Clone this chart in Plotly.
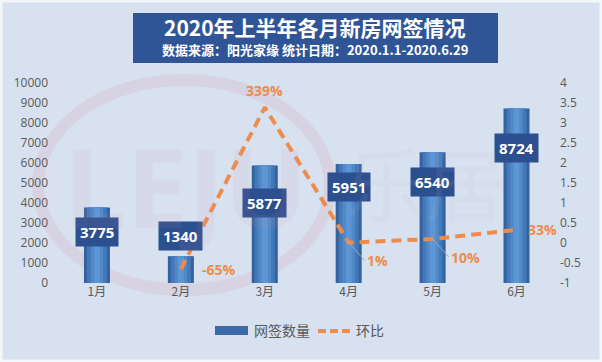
import plotly.graph_objects as go

months = ["1月", "2月", "3月", "4月", "5月", "6月"]
sign_counts = [3775, 1340, 5877, 5951, 6540, 8724]
mom_ratio = [None, -0.65, 3.39, 0.01, 0.10, 0.33]
mom_labels = ["", "-65%", "339%", "1%", "10%", "33%"]
left_ticks = list(range(0, 10001, 1000))
right_tick_vals = [-1, -0.5, 0, 0.5, 1, 1.5, 2, 2.5, 3, 3.5, 4]
right_tick_text = ["-1", "-0.5", "0", "0.5", "1", "1.5", "2", "2.5", "3", "3.5", "4"]

# layout helpers (label offsets below bar top, in data units)
bar_label_offset = [1225, -1000, 1877, 1150, 1490, 1974]

W, H = 602, 362
L, R, T, B = 55, 43, 83, 79
PW, PH = W - L - R, H - T - B


def px(x):
    return (x - L) / PW


def py(y):
    return (H - B - y) / PH


CJK = "Noto Sans CJK SC"
NUM = "Open Sans"
ORANGE = "#ee8c4c"
DARK = "#2b4f8f"

fig = go.Figure()

# bars with a simple shaded look (layered)
fig.add_trace(go.Bar(x=months, y=sign_counts, width=0.31, marker=dict(color="#34629e", line_width=0),
                     showlegend=False, hoverinfo="skip"))
fig.add_trace(go.Bar(x=months, y=sign_counts, width=0.24, marker=dict(color="#4378b9", line_width=0),
                     showlegend=False, hoverinfo="skip"))
fig.add_trace(go.Bar(x=months, y=sign_counts, width=0.15, marker=dict(color="#5189c8", line_width=0),
                     showlegend=False, hoverinfo="skip"))
fig.add_trace(go.Bar(x=months, y=sign_counts, width=0.07, marker=dict(color="#5d96d4", line_width=0),
                     showlegend=False, hoverinfo="skip"))

fig.add_trace(go.Scatter(x=months, y=mom_ratio, yaxis="y2", mode="lines",
                         line=dict(color=ORANGE, width=4, dash="10px,6px"),
                         showlegend=False, hoverinfo="skip", connectgaps=False))

# bar value labels
for m, v, off in zip(months, sign_counts, bar_label_offset):
    fig.add_annotation(x=m, y=v - off, xref="x", yref="y", text=f"<b>{v}</b>", showarrow=False,
                       font=dict(family=NUM, size=15, color="white"), bgcolor=DARK,
                       borderpad=4)

# ratio labels
label_specs = {
    "2月": dict(xshift=38, yshift=0),
    "3月": dict(xshift=0, yshift=17),
    "6月": dict(xshift=26, yshift=0),
}
for m, r, t in zip(months, mom_ratio, mom_labels):
    if r is None:
        continue
    if m in label_specs:
        fig.add_annotation(x=m, y=r, xref="x", yref="y2", text=f"<b>{t}</b>", showarrow=False,
                           font=dict(family=NUM, size=14, color=ORANGE), **label_specs[m])
    else:
        fig.add_annotation(x=m, y=r, xref="x", yref="y2", text=f"<b>{t}</b>", showarrow=True,
                           arrowhead=0, arrowwidth=1, arrowcolor="#a0a8b0", ax=16, ay=18,
                           xanchor="left", font=dict(family=NUM, size=14, color=ORANGE))

shapes = []
# faint watermark ring
shapes.append(dict(type="circle", xref="paper", yref="paper", x0=px(38), x1=px(330), y0=py(290), y1=py(80),
                   line=dict(color="rgba(215,140,165,0.16)", width=12), layer="below"))
# white outer frame
shapes.append(dict(type="rect", xref="paper", yref="paper", x0=px(1), x1=px(W - 1), y0=py(H - 1), y1=py(1),
                   line=dict(color="#f4f6f9", width=3), layer="below"))
# title box
shapes.append(dict(type="rect", xref="paper", yref="paper", x0=px(133), x1=px(498), y0=py(63), y1=py(13),
                   fillcolor="#2f5597", line_width=0))
# legend swatches
shapes.append(dict(type="rect", xref="paper", yref="paper", x0=px(215), x1=px(248), y0=py(335), y1=py(326),
                   fillcolor="#3c6aa8", line_width=0))
shapes.append(dict(type="line", xref="paper", yref="paper", x0=px(318), x1=px(352), y0=py(331), y1=py(331),
                   line=dict(color=ORANGE, width=4, dash="8px,4px")))
fig.update_layout(shapes=shapes)


def paper_text(x, y, text, size, color, family=CJK, xanchor="center"):
    fig.add_annotation(xref="paper", yref="paper", x=px(x), y=py(y), text=text, showarrow=False,
                       xanchor=xanchor, yanchor="middle", font=dict(family=family, size=size, color=color))


paper_text(185, 185, "<b>LEJU</b>", 110, "rgba(200,150,180,0.10)", family=NUM)
paper_text(425, 180, "乐居", 80, "rgba(200,180,200,0.10)")

# titles
paper_text(315, 27, "<b>2020年上半年各月新房网签情况</b>", 21, "white")
paper_text(315, 50, "<b>数据来源：阳光家缘 统计日期：2020.1.1-2020.6.29</b>", 13, "white")
# legend texts
paper_text(252, 330, "网签数量", 14, "#595959", xanchor="left")
paper_text(354, 330, "环比", 14, "#595959", xanchor="left")

fig.update_layout(
    width=W, height=H,
    margin=dict(l=L, r=R, t=T, b=B),
    paper_bgcolor="#d7e1ef",
    plot_bgcolor="rgba(0,0,0,0)",
    barmode="overlay",
    showlegend=False,
    xaxis=dict(showgrid=False, showline=False, ticks="", tickfont=dict(family=CJK, size=12, color="#595959")),
    yaxis=dict(range=[0, 10000], tickvals=left_ticks, ticktext=[str(v) for v in left_ticks],
               showgrid=False, zeroline=False, showline=False,
               tickfont=dict(family=NUM, size=12, color="#595959"), ticklabelstandoff=6),
    yaxis2=dict(range=[-1, 4], overlaying="y", side="right", tickvals=right_tick_vals, ticktext=right_tick_text,
                showgrid=False, zeroline=False, showline=False,
                tickfont=dict(family=NUM, size=12, color="#595959")),
)
fig.write_html("out.html", config={"displayModeBar": False},
               post_script="document.body.style.margin='0';")
